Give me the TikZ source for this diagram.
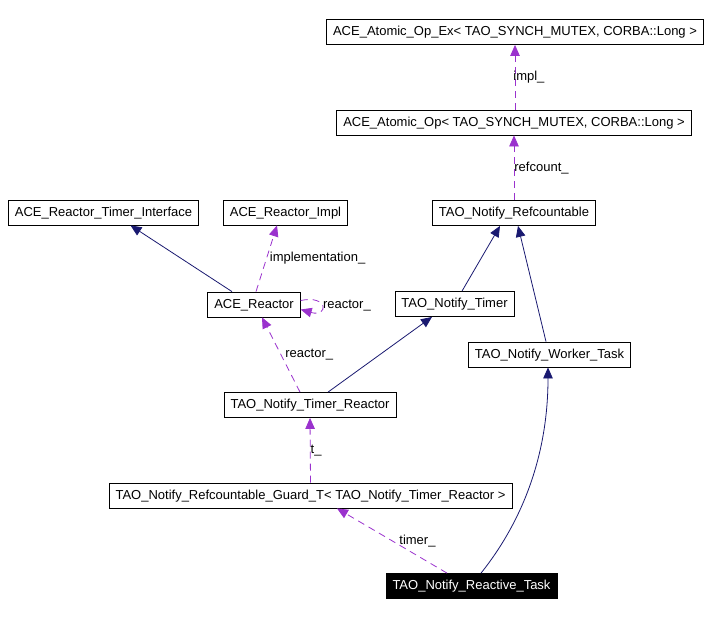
\documentclass[tikz,border=0pt]{standalone}
\usepackage{fontspec}
\setmainfont{Liberation Sans}
\usepackage{xcolor}
\usepackage{tikz}
\usetikzlibrary{calc,positioning,arrows.meta,shapes}
\definecolor{navyedge}{RGB}{25,25,112}
\definecolor{orchidedge}{RGB}{154,50,205}
\tikzstyle{classbox} = [rectangle, draw=black, line width=0.8pt, fill=white, minimum height=25pt, inner xsep=6.5pt, inner ysep=0pt, text height=9.5pt, text depth=2.5pt, text centered, font=\fontsize{13}{15}\selectfont]
\tikzstyle{focusbox} = [classbox, fill=black, text=white]
\tikzstyle{inherit} = [line width=0.8pt, draw=navyedge, -{Triangle[length=11pt,width=9.5pt]}]
\tikzstyle{usage} = [line width=0.8pt, draw=orchidedge, dash pattern=on 7pt off 5pt, -{Triangle[length=11pt,width=9.5pt,fill=orchidedge]}]
\tikzstyle{lbl} = [inner sep=0pt, anchor=west, font=\fontsize{13}{15}\selectfont]

\begin{document}
\begin{tikzpicture}[x=1pt,y=-1pt]
      \useasboundingbox (0,0) rectangle (711,616);
      % classes
      \node (atomicex) [classbox] at (515,32) {ACE\_Atomic\_Op\_Ex< TAO\_SYNCH\_MUTEX, CORBA::Long >};
      \node (atomicop) [classbox] at (514,122.5) {ACE\_Atomic\_Op< TAO\_SYNCH\_MUTEX, CORBA::Long >};
      \node (timerif) [classbox] at (103.5,212.5) {ACE\_Reactor\_Timer\_Interface};
      \node (reactorimpl) [classbox] at (285.5,212.5) {ACE\_Reactor\_Impl};
      \node (refcountable) [classbox] at (514,213) {TAO\_Notify\_Refcountable};
      \node (acereactor) [classbox] at (254,304.5) {ACE\_Reactor};
      \node (notifytimer) [classbox] at (454.5,304) {TAO\_Notify\_Timer};
      \node (workertask) [classbox] at (549.5,354.5) {TAO\_Notify\_Worker\_Task};
      \node (timerreactor) [classbox] at (310,405) {TAO\_Notify\_Timer\_Reactor};
      \node (guard) [classbox] at (310.5,495.5) {TAO\_Notify\_Refcountable\_Guard\_T< TAO\_Notify\_Timer\_Reactor >};
      \node (reactivetask) [focusbox] at (471.5,586) {TAO\_Notify\_Reactive\_Task};

      % inheritance
      \draw [inherit] ([xshift=-22pt]acereactor.north) -- ([xshift=27pt]timerif.south);
      \draw [inherit] ([xshift=7.5pt]notifytimer.north) -- ([xshift=-14pt]refcountable.south);
      \draw [inherit] ([xshift=-3.5pt]workertask.north) -- ([xshift=4pt]refcountable.south);
      \draw [inherit] ([xshift=18pt]timerreactor.north) -- ([xshift=-22.5pt]notifytimer.south);
      \draw [inherit] ([xshift=9.5pt]reactivetask.north) .. controls +(40,-50) and +(0,90) .. ([xshift=-1.5pt]workertask.south);

      % members
      \draw [usage] ([xshift=1pt]atomicop.north) -- node[lbl, xshift=-2pt] {impl\_} (atomicex.south);
      \draw [usage] (refcountable.north) -- node[lbl] {refcount\_} (atomicop.south);
      \draw [usage] ([xshift=2pt]acereactor.north) -- node[lbl, xshift=3pt] {implementation\_} ([xshift=-8.5pt]reactorimpl.south);
      \draw [usage] ([yshift=4pt]acereactor.east) .. controls +(28,-6) and +(28,8) .. node[lbl, xshift=1pt] {reactor\_} ([yshift=-5pt]acereactor.east);
      \draw [usage] ([xshift=-10pt]timerreactor.north) -- node[lbl, xshift=4pt] {reactor\_} ([xshift=8pt]acereactor.south);
      \draw [usage] (guard.north) -- node[lbl] {t\_} (timerreactor.south);
      \draw [usage] ([xshift=-24.5pt]reactivetask.north) -- node[lbl, xshift=7pt] {timer\_} ([xshift=26.5pt]guard.south);

    \end{tikzpicture}
\end{document}
